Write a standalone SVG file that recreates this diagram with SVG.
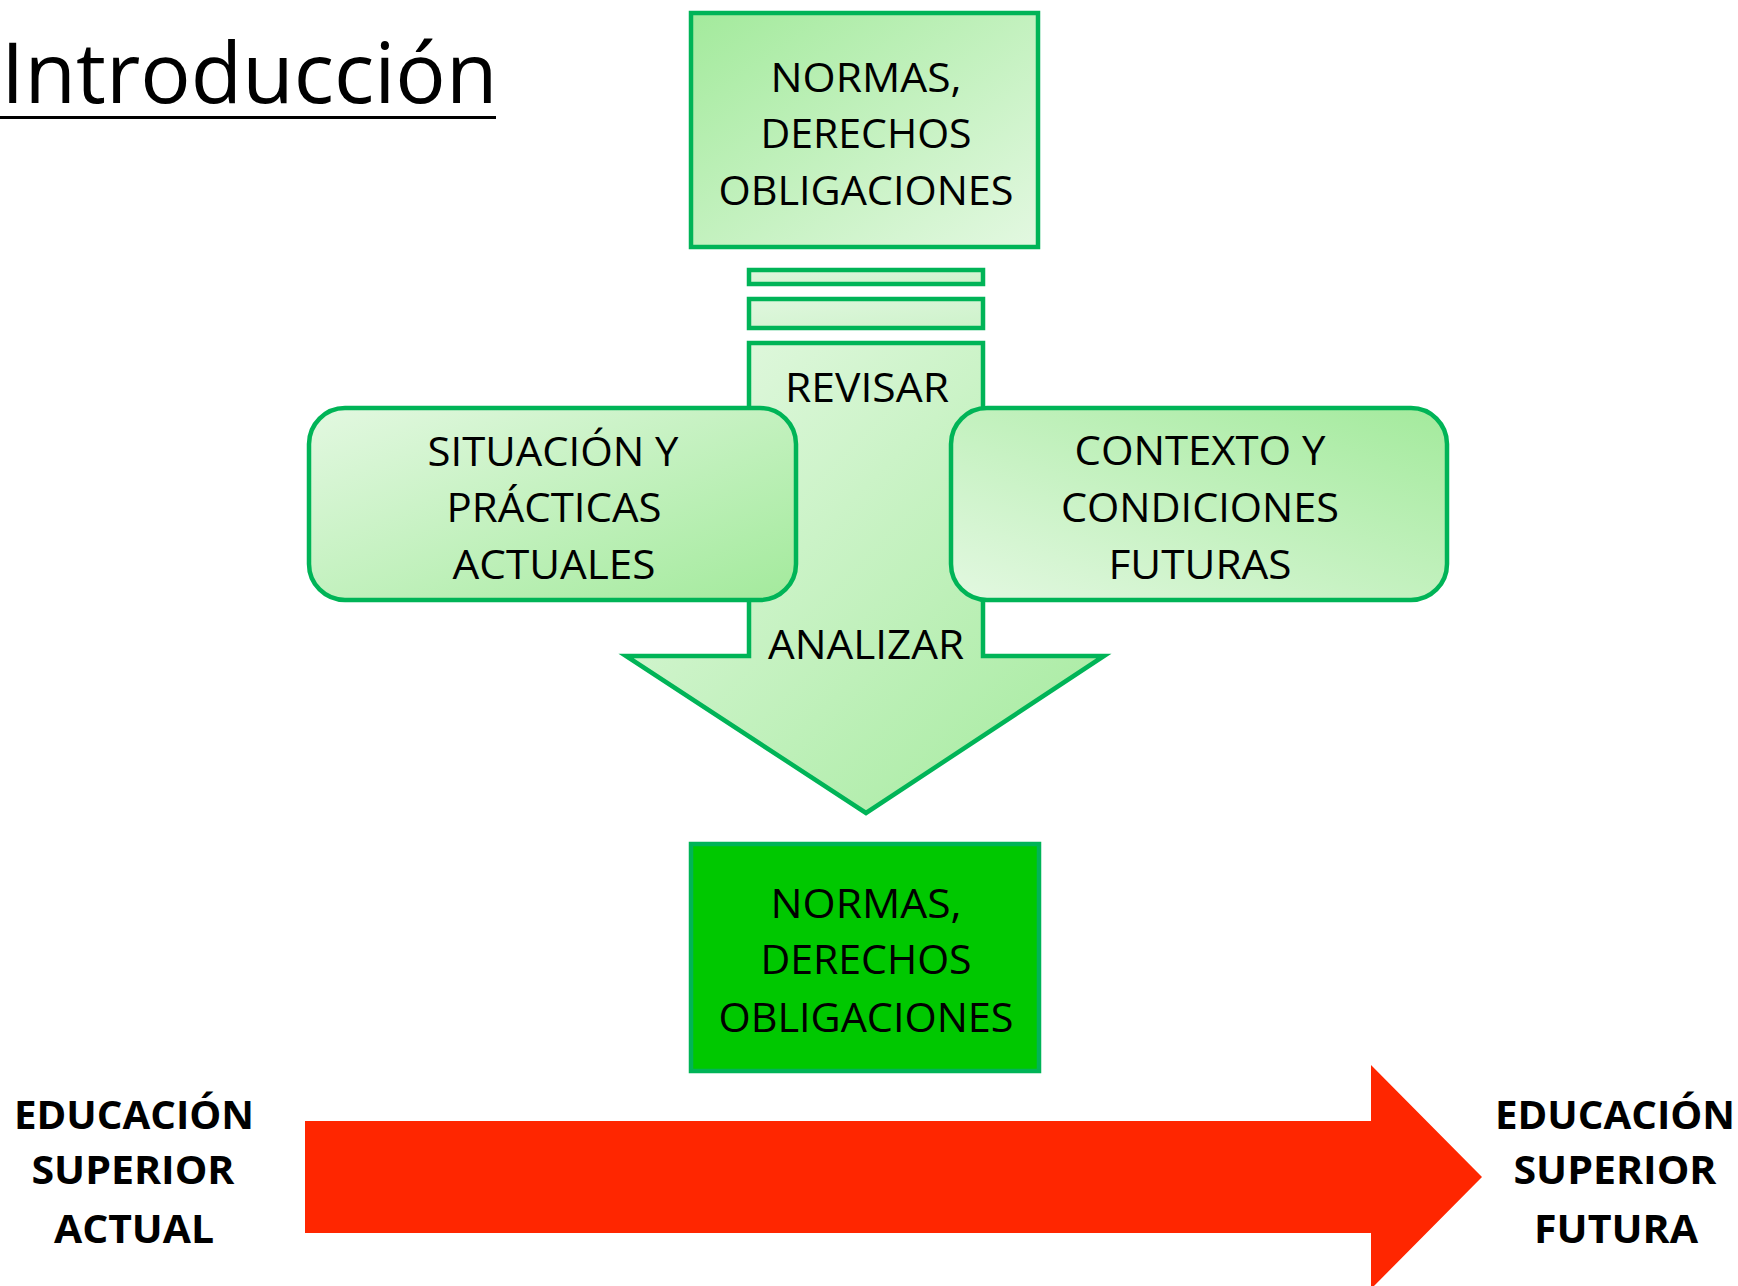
<svg xmlns="http://www.w3.org/2000/svg" width="1738" height="1286" viewBox="0 0 1738 1286">
  <defs>
    <linearGradient id="gDarkTL" x1="0" y1="0" x2="1" y2="1">
      <stop offset="0" stop-color="#a3ea9c"/>
      <stop offset="1" stop-color="#e3f8e1"/>
    </linearGradient>
    <linearGradient id="gLightTL" x1="0" y1="0" x2="1" y2="1">
      <stop offset="0" stop-color="#e3f8e1"/>
      <stop offset="1" stop-color="#a3ea9c"/>
    </linearGradient>
    <linearGradient id="gRight" x1="0" y1="1" x2="1" y2="0">
      <stop offset="0" stop-color="#e3f8e1"/>
      <stop offset="1" stop-color="#a3ea9c"/>
    </linearGradient>
    <linearGradient id="gArrow" x1="0" y1="0" x2="1" y2="1">
      <stop offset="0" stop-color="#e6f9e4"/>
      <stop offset="1" stop-color="#a3ea9c"/>
    </linearGradient>
    <linearGradient id="gBars" x1="0" y1="0" x2="1" y2="1">
      <stop offset="0" stop-color="#e0f7de"/>
      <stop offset="1" stop-color="#cdf2ca"/>
    </linearGradient>
  </defs>
  <style>
    .edge { stroke: #00b457; stroke-width: 4.5; stroke-linejoin: miter; }
    .t { font-family: "Open Sans", "Noto Sans", "DejaVu Sans", sans-serif; fill: #000; text-anchor: middle; font-size: 41px; }
    .b { font-family: "Open Sans", "Noto Sans", "DejaVu Sans", sans-serif; font-weight: bold; fill: #000; text-anchor: middle; font-size: 40px; }
  </style>
  <rect x="0" y="0" width="1738" height="1286" fill="#ffffff"/>

  <g id="title">
    <text x="1" y="103" font-family="'Open Sans', 'Noto Sans', sans-serif" font-size="84" fill="#000">Introducción</text>
    <line x1="0" y1="117.5" x2="496" y2="117.5" stroke="#000" stroke-width="3"/>
  </g>

  <g id="connectors">
    <rect class="edge" x="749" y="270" width="234" height="14" fill="url(#gBars)"/>
    <rect class="edge" x="749" y="299" width="234" height="29" fill="url(#gBars)"/>
    <path id="flow-arrow" class="edge" fill="url(#gArrow)" d="M749,343 L983,343 L983,656 L1104,656 L866,813 L626,656 L749,656 Z"/>
    <text class="t" x="867" y="402" textLength="164" lengthAdjust="spacingAndGlyphs">REVISAR</text>
    <text class="t" x="866" y="659" textLength="196" lengthAdjust="spacingAndGlyphs">ANALIZAR</text>
    <polygon id="time-arrow" fill="#ff2600" points="305,1121 1371,1121 1371,1065 1482,1177 1371,1289 1371,1233 305,1233"/>
  </g>

  <g id="node-normas-top">
    <rect class="edge" x="691" y="13" width="347" height="234" fill="url(#gDarkTL)"/>
    <text class="t" x="866" y="92" textLength="191" lengthAdjust="spacingAndGlyphs">NORMAS,</text>
    <text class="t" x="866" y="148" textLength="211" lengthAdjust="spacingAndGlyphs">DERECHOS</text>
    <text class="t" x="866" y="205" textLength="295" lengthAdjust="spacingAndGlyphs">OBLIGACIONES</text>
  </g>

  <g id="node-situacion">
    <rect class="edge" x="309" y="408" width="487" height="192" rx="36" ry="36" fill="url(#gLightTL)"/>
    <text class="t" x="553" y="466" textLength="251" lengthAdjust="spacingAndGlyphs">SITUACIÓN Y</text>
    <text class="t" x="554" y="522" textLength="215" lengthAdjust="spacingAndGlyphs">PRÁCTICAS</text>
    <text class="t" x="554" y="579" textLength="203" lengthAdjust="spacingAndGlyphs">ACTUALES</text>
  </g>

  <g id="node-contexto">
    <rect class="edge" x="951" y="408" width="496" height="192" rx="36" ry="36" fill="url(#gRight)"/>
    <text class="t" x="1200" y="465" textLength="251" lengthAdjust="spacingAndGlyphs">CONTEXTO Y</text>
    <text class="t" x="1200" y="522" textLength="278" lengthAdjust="spacingAndGlyphs">CONDICIONES</text>
    <text class="t" x="1200" y="579" textLength="183" lengthAdjust="spacingAndGlyphs">FUTURAS</text>
  </g>

  <g id="node-normas-bottom">
    <rect class="edge" x="691" y="844" width="348" height="227" fill="#00c800"/>
    <text class="t" x="866" y="918" textLength="191" lengthAdjust="spacingAndGlyphs">NORMAS,</text>
    <text class="t" x="866" y="974" textLength="211" lengthAdjust="spacingAndGlyphs">DERECHOS</text>
    <text class="t" x="866" y="1032" textLength="295" lengthAdjust="spacingAndGlyphs">OBLIGACIONES</text>
  </g>

  <g id="node-actual">
    <text class="b" x="134" y="1129" textLength="240" lengthAdjust="spacingAndGlyphs">EDUCACIÓN</text>
    <text class="b" x="133" y="1184" textLength="203" lengthAdjust="spacingAndGlyphs">SUPERIOR</text>
    <text class="b" x="134" y="1243" textLength="160" lengthAdjust="spacingAndGlyphs">ACTUAL</text>
  </g>

  <g id="node-futura">
    <text class="b" x="1615" y="1129" textLength="240" lengthAdjust="spacingAndGlyphs">EDUCACIÓN</text>
    <text class="b" x="1615" y="1184" textLength="203" lengthAdjust="spacingAndGlyphs">SUPERIOR</text>
    <text class="b" x="1616" y="1243" textLength="164" lengthAdjust="spacingAndGlyphs">FUTURA</text>
  </g>
</svg>
